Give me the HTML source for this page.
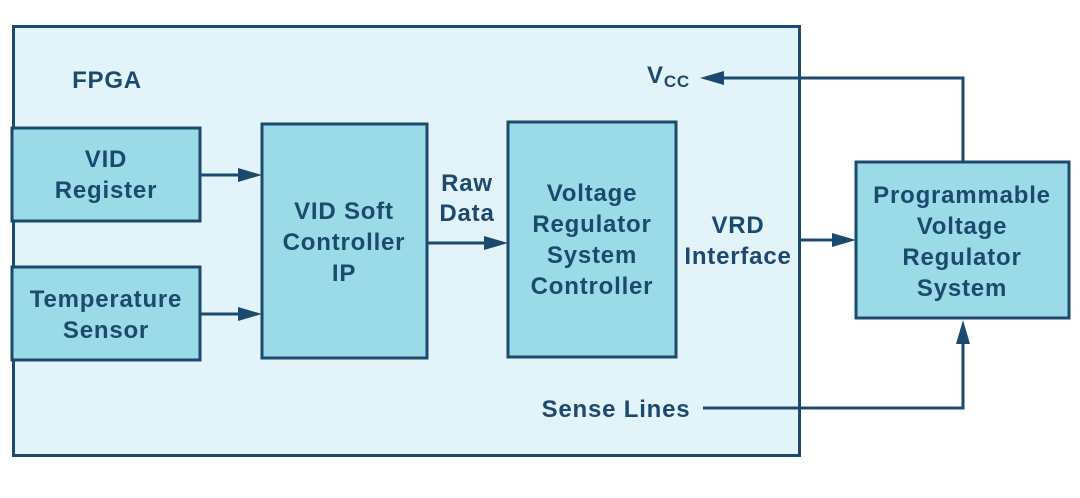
<!DOCTYPE html>
<html><head><style>
body{margin:0;width:1080px;height:493px;background:#fff;overflow:hidden}
</style></head><body>
<svg width="1080" height="493" xmlns="http://www.w3.org/2000/svg" font-family="Liberation Sans, sans-serif" font-weight="bold" font-size="24" letter-spacing="0.8" fill="#1c4a6e">
<rect x="13.5" y="26.5" width="786" height="429" fill="#e2f4f9" stroke="#1c4a6e" stroke-width="3"/>
<g fill="#9bdbe8" stroke="#1c4a6e" stroke-width="3">
<rect x="12" y="128" width="188" height="93"/>
<rect x="12" y="267" width="188" height="93"/>
<rect x="262" y="124" width="165" height="234"/>
<rect x="508" y="122" width="168" height="235"/>
<rect x="856" y="162" width="213" height="156"/>
</g>
<g stroke="#1c4a6e" stroke-width="3" fill="none">
<line x1="200" y1="175" x2="240" y2="175"/>
<line x1="200" y1="314" x2="240" y2="314"/>
<line x1="427" y1="243" x2="486" y2="243"/>
<line x1="800" y1="240" x2="834" y2="240"/>
<polyline points="963,162 963,78 720,78"/>
<polyline points="703,408 963,408 963,340"/>
</g>
<g fill="#1c4a6e">
<polygon points="238,168 262,175 238,182"/>
<polygon points="238,307 262,314 238,321"/>
<polygon points="484,236 508,243 484,250"/>
<polygon points="832,233 856,240 832,247"/>
<polygon points="724,71 700,78 724,85"/>
<polygon points="956,344 963,320 970,344"/>
</g>
<g text-anchor="middle">
<text x="107" y="88">FPGA</text>
<text x="106" y="167">VID</text><text x="106" y="198">Register</text>
<text x="106" y="307">Temperature</text><text x="106" y="338">Sensor</text>
<text x="344" y="219">VID Soft</text><text x="344" y="250">Controller</text><text x="344" y="281">IP</text>
<text x="467" y="191">Raw</text><text x="467" y="221">Data</text>
<text x="592" y="201">Voltage</text><text x="592" y="232">Regulator</text><text x="592" y="263">System</text><text x="592" y="294">Controller</text>
<text x="738" y="233">VRD</text><text x="738" y="264">Interface</text>
<text x="962" y="203">Programmable</text><text x="962" y="234">Voltage</text><text x="962" y="265">Regulator</text><text x="962" y="296">System</text>
<text x="616" y="417">Sense Lines</text>
</g>
<text x="647" y="83">V<tspan font-size="17" dy="4">CC</tspan></text>
</svg>
</body></html>
